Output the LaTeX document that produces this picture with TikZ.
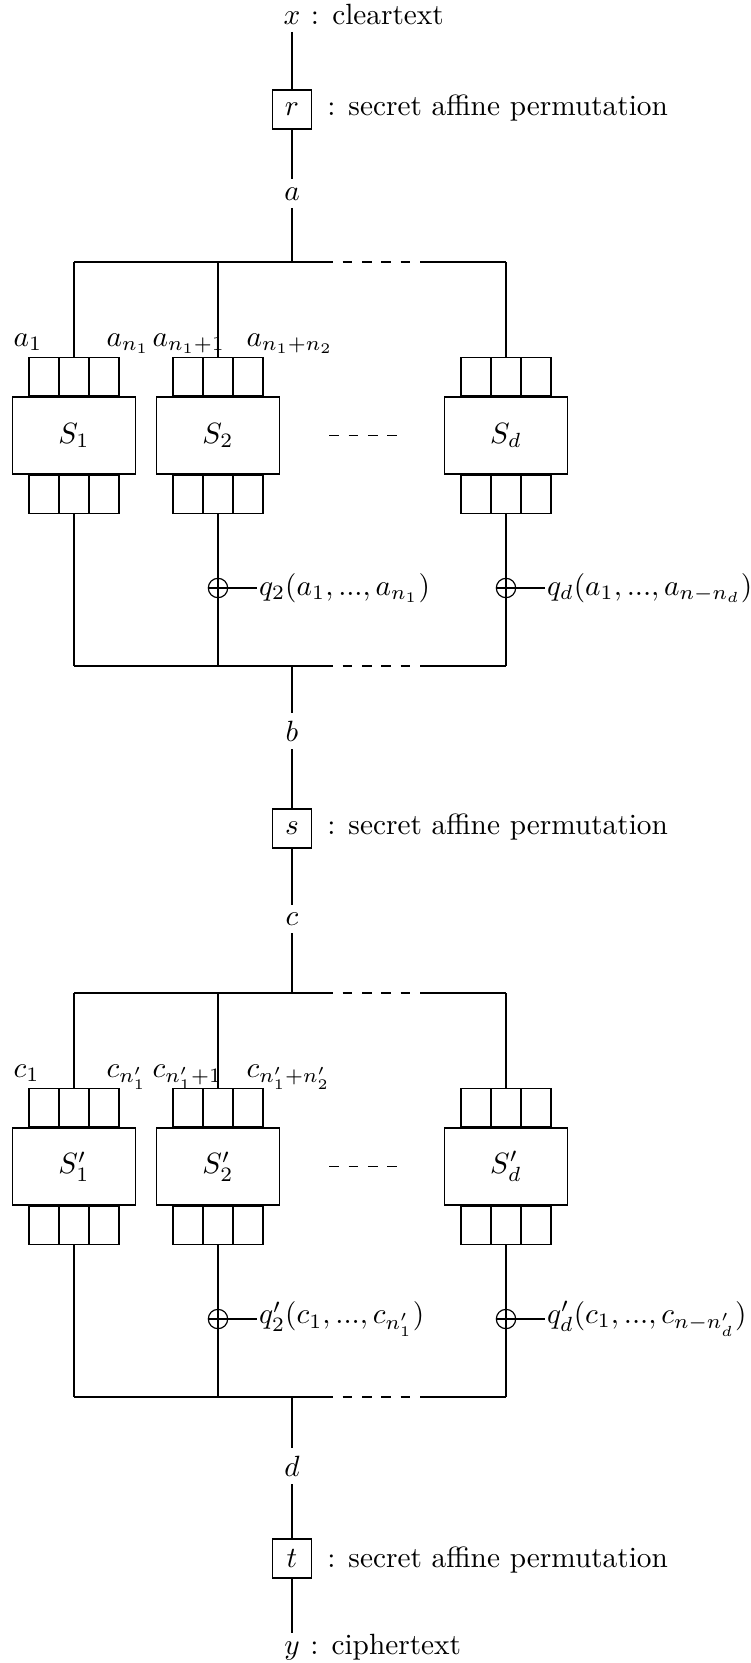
\documentclass[tikz,border=0pt]{standalone}
\usetikzlibrary{positioning}
\begin{document}
\begin{tikzpicture}[
    x=0.3413pt, y=-0.3413pt,
    sbox/.style={rectangle, draw, minimum width=42pt, minimum height=26.3pt, inner sep=0pt},
    cell/.style={rectangle, draw, minimum width=10.24pt, minimum height=12.97pt, inner sep=0pt},
    perm/.style={rectangle, draw, minimum size=13.3pt, inner sep=0pt},
    xorc/.style={circle, draw, minimum size=6.6pt, inner sep=0pt},
    wire/.style={inner sep=2.5pt},
    note/.style={anchor=base west, inner sep=0pt},
    qlab/.style={anchor=west, inner sep=0.5pt},
    dots/.style={dash pattern=on 3.3pt off 3.3pt}
]
\useasboundingbox (0,0) rectangle (751,1663);

% main line: cleartext, permutations, ciphertext
\node[wire, anchor=base] (xin) at (292,24) {$x$};
\node[note] (xtxt) at ([xshift=0.7pt]xin.base east) {:\hspace{4.5pt}cleartext};
\node[perm] (rperm) at (292,109.5) {$r$};
\node[note] (rtxt) at ([xshift=5pt]rperm.base east) {: secret affine permutation};
\node[wire] (alab) at (292,193.7) {$a$};
\node[wire] (blab) at (292,731) {$b$};
\node[perm] (sperm) at (292,828.5) {$s$};
\node[note] (stxt) at ([xshift=5pt]sperm.base east) {: secret affine permutation};
\node[wire] (clab) at (292,919) {$c$};
\node[wire] (dlab) at (292,1466) {$d$};
\node[perm] (tperm) at (292,1558.5) {$t$};
\node[note] (ttxt) at ([xshift=5pt]tperm.base east) {: secret affine permutation};
\node[wire, anchor=base] (yout) at (292,1654) {$y$};
\node[note] (ytxt) at ([xshift=0.7pt]yout.base east) {:\hspace{4.5pt}ciphertext};

% the two S-box layers
\foreach \st/\oy/\ltr/\pr in {A/0/a/\relax, B/731/c/'} {
  \coordinate (\st top) at (292,262+\oy);
  \coordinate (\st bot) at (292,666+\oy);
  \foreach \g/\cx/\idx in {1/74/1, 2/218/2, 3/506/d} {
    \coordinate (\st t\g) at (\cx,262+\oy);
    \coordinate (\st b\g) at (\cx,666+\oy);
    \node[sbox] (\st S\g) at (\cx,435.5+\oy) {$S\pr_{\idx}$};
    \foreach \cl/\dx in {l/-1, m/0, r/1} {
      \node[cell, anchor=south] (\st S\g in\cl) at ([xshift=\dx*10.24pt]\st S\g.north) {};
      \node[cell, anchor=north] (\st S\g out\cl) at ([xshift=\dx*10.24pt]\st S\g.south) {};
    }
    \draw (\st t\g) -- (\st S\g inm);
    \draw (\st S\g outm) -- (\st b\g);
  }
  % input bits
  \node[note] (\st l1) at (13,346+\oy) {$\ltr_1$};
  \node[note] (\st l2) at (106,346+\oy) {$\ltr_{n\pr_1}$};
  \node[note] (\st l3) at (152,346+\oy) {$\ltr_{n\pr_1+1}$};
  \node[note] (\st l4) at (246,346+\oy) {$\ltr_{n\pr_1+n\pr_2}$};
  % xor with the quadratic parts
  \foreach \g/\cx/\ql in {2/218/{$q\pr_2(\ltr_1,...,\ltr_{n\pr_1})$}, 3/506/{$q\pr_d(\ltr_1,...,\ltr_{n-n\pr_d})$}} {
    \node[xorc] (\st x\g) at (\cx,588+\oy) {};
    \node[qlab, right=9.8pt of \st x\g] (\st q\g) {\ql};
    \draw (\st x\g.west) -- (\st q\g);
  }
  % buses
  \coordinate (\st ds) at (333,262+\oy);
  \coordinate (\st de) at (420,262+\oy);
  \coordinate (\st es) at (333,666+\oy);
  \coordinate (\st ee) at (420,666+\oy);
  \coordinate (\st gs) at (329.3,435.7+\oy);
  \coordinate (\st ge) at (397,435.7+\oy);
  \draw (\st t1) -- (\st ds);
  \draw[dots, dash phase=3.3pt] (\st ds) -- (\st de);
  \draw (\st de) -- (\st t3);
  \draw (\st b1) -- (\st es);
  \draw[dots, dash phase=3.3pt] (\st es) -- (\st ee);
  \draw (\st ee) -- (\st b3);
  \draw[dots] (\st gs) -- (\st ge);
}

\draw (xin) -- (rperm) -- (alab) -- (Atop);
\draw (Abot) -- (blab) -- (sperm) -- (clab) -- (Btop);
\draw (Bbot) -- (dlab) -- (tperm) -- (yout);

\end{tikzpicture}
\end{document}
